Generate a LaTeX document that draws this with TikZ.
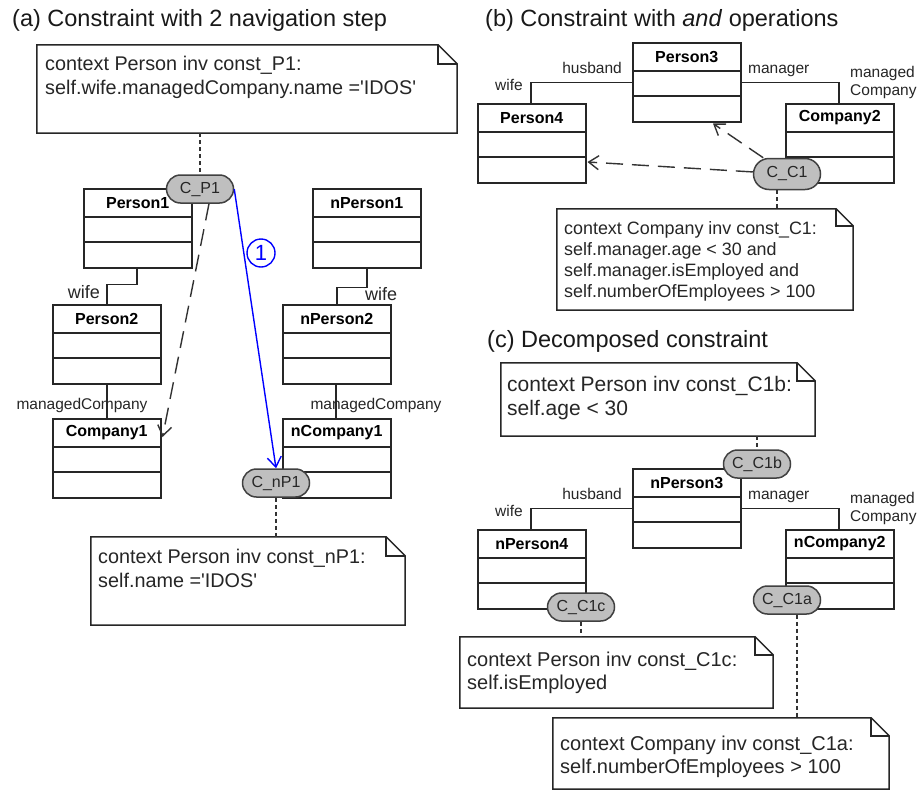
\documentclass[tikz,border=0pt]{standalone}
\usepackage{fontspec}
\setmainfont{Liberation Sans}
\usetikzlibrary{calc,arrows.meta,fit}

\newcommand\umlclass[4]{%
  \node[cls] (#1) at (#2,#3) {};
  \node[clsname] (#1-name) at ($(#1.north)+(0,15)$) {#4};
  \draw[clsline] ($(#1.north west)+(0,29)$) -- ($(#1.north east)+(0,29)$);
  \draw[clsline] ($(#1.north west)+(0,54)$) -- ($(#1.north east)+(0,54)$);
}
\newcommand\umlnote[6]{%
  \node[fit={(#2,#3) (#4,#5)}, inner sep=0pt] (#1) {};
  \draw[noteline] (#1.north west) -- ($(#1.north east)+(-#6,0)$) -- ($(#1.north east)+(0,#6)$)
     -- (#1.south east) -- (#1.south west) -- cycle;
  \draw[noteline] ($(#1.north east)+(-#6,0)$) -- ($(#1.north east)+(-#6,#6)$) -- ($(#1.north east)+(0,#6)$);
}

\begin{document}
\begin{tikzpicture}[x=1pt,y=-1pt,
  cls/.style={draw=black!85, line width=1.5pt, fill=white, inner sep=0pt,
    minimum width=108pt, minimum height=79pt, anchor=north west},
  clsname/.style={font=\fontsize{16}{19}\selectfont\bfseries, inner sep=0pt},
  clsline/.style={draw=black!85, line width=1.5pt},
  assoc/.style={draw=black!85, line width=1.5pt},
  noteline/.style={draw=black!85, line width=1.5pt, line join=miter},
  notetext/.style={align=left, inner sep=0pt, anchor=north west, text=black!85},
  pill/.style={draw=black!75, fill=black!25, line width=1.5pt, rounded corners=14pt,
    minimum width=67pt, minimum height=28pt, inner sep=0pt,
    font=\fontsize{16}{19}\selectfont, text=black!85},
  noteconn/.style={draw=black!80, line width=1.4pt, dash pattern=on 4pt off 3pt},
  deparrow/.style={draw=black!80, line width=1.4pt, dash pattern=on 17pt off 9pt,
    -{Straight Barb[length=10pt,width=14pt]}},
  nav/.style={draw=blue, line width=1.4pt, -{Straight Barb[length=10pt,width=14pt]}},
  role/.style={font=\fontsize{15.5}{18.5}\selectfont, inner sep=0pt, text=black!85},
  rolebig/.style={font=\fontsize{18}{21}\selectfont, inner sep=0pt, text=black!85},
  title/.style={font=\fontsize{23.5}{28}\selectfont, inner sep=0pt, anchor=base west, text=black!90}]

\fill[white] (0,0) rectangle (917,790);
\useasboundingbox (0,0) rectangle (917,790);

% titles
\node[title] (ta) at (12,26) {(a) Constraint with 2 navigation step};
\node[title] (tb) at (485,26) {(b) Constraint with \textit{and} operations};
\node[title] (tc) at (487,347) {(c) Decomposed constraint};

% ---------- (a) ----------
\umlnote{noteP1}{37}{45}{457}{133}{19}
\node[notetext, font=\fontsize{19.8}{24}\selectfont] (noteP1-text) at (45,55.8)
  {context Person inv const\_P1:\\self.wife.managedCompany.name =\textquotesingle IDOS\textquotesingle};

\umlclass{P1}{83}{188}{Person1}
\umlclass{P2}{52}{304}{Person2}
\umlclass{Co1}{52}{418}{Company1}
\umlclass{nP1}{312}{188}{nPerson1}
\umlclass{nP2}{282}{304}{nPerson2}
\umlclass{nCo1}{282}{418}{nCompany1}

\draw[assoc] ($(P1.south west)+(54,0)$) -- ++(0,16) -| ($(P2.north west)+(55,0)$);
\draw[assoc] ($(P2.south west)+(55,0)$) -- ($(Co1.north west)+(55,0)$);
\draw[assoc] ($(nP1.south west)+(55,0)$) -- ++(0,19) -| ($(nP2.north west)+(55,0)$);
\draw[assoc] ($(nP2.south west)+(54,0)$) -- ($(nCo1.north west)+(54,0)$);

\node[rolebig, anchor=base east] (lwa1) at (100,298) {wife};
\node[role, anchor=base] (lma1) at (82,409) {managedCompany};
\node[rolebig, anchor=base west] (lwa2) at (365,300) {wife};
\node[role, anchor=base] (lma2) at (376,409) {managedCompany};

\node[pill] (CP1) at (200,189) {C\_P1};
\node[pill] (CnP1) at (276,483) {C\_nP1};

\draw[noteconn] (CP1.north |- noteP1.south) -- (CP1.north);
\draw[deparrow] ($(CP1.south)+(9,0)$) -- ($(Co1.north east)+(1,19)$);
\draw[nav] (CP1.east) -- (CnP1.north);
\node[draw=blue, circle, line width=1.4pt, minimum size=28pt, inner sep=0pt, text=blue,
  font=\fontsize{22}{26}\selectfont] (one) at (261,253) {1};

\umlnote{notenP1}{91}{537}{405}{625}{19}
\node[notetext, font=\fontsize{19.8}{24}\selectfont] (notenP1-text) at (98,548.8)
  {context Person inv const\_nP1:\\self.name =\textquotesingle IDOS\textquotesingle};
\draw[noteconn] (CnP1.south) -- (CnP1.south |- notenP1.north);

% ---------- (b) ----------
\umlclass{P3}{632}{42}{Person3}
\umlclass{P4}{477}{103}{Person4}
\umlclass{Co2}{785}{103}{Company2}
\draw[assoc] (P3.west) -| ($(P4.north west)+(54,0)$);
\draw[assoc] (P3.east) -| ($(Co2.north west)+(54,0)$);
\node[role, anchor=base east] (lhb) at (622,73) {husband};
\node[role, anchor=base east] (lwb) at (523,90) {wife};
\node[role, anchor=base west] (lmb) at (748,73) {manager};
\node[role, anchor=base west] (lmcb1) at (850,77) {managed};
\node[role, anchor=base west] (lmcb2) at (850,95) {Company};

\node[pill, minimum height=31pt, rounded corners=15.5pt] (CC1) at (787,174) {C\_C1};
\draw[deparrow] (CC1) -- ($(P3.south west)+(81,1)$);
\draw[deparrow] (CC1) -- ($(P4.north east)+(1,59)$);

\umlnote{noteC1}{557}{209}{853}{310}{17}
\node[notetext, font=\fontsize{17.9}{21}\selectfont] (noteC1-text) at (564,221.2)
  {context Company inv const\_C1:\\self.manager.age < 30 and\\self.manager.isEmployed and\\self.numberOfEmployees > 100};
\coordinate (cc1d) at ($(CC1.south)+(-10,0)$);
\draw[noteconn] (cc1d) -- (cc1d |- noteC1.north);

% ---------- (c) ----------
\umlnote{noteC1b}{501}{363}{815}{436}{18}
\node[notetext, font=\fontsize{21}{24}\selectfont] (noteC1b-text) at (507,376)
  {context Person inv const\_C1b:\\self.age < 30};

\umlclass{nP3}{632}{468}{nPerson3}
\umlclass{nP4}{477}{529}{nPerson4}
\umlclass{nCo2}{785}{529}{nCompany2}
\draw[assoc] (nP3.west) -| ($(nP4.north west)+(54,0)$);
\draw[assoc] (nP3.east) -| ($(nCo2.north west)+(54,0)$);
\node[role, anchor=base east] (lhc) at (622,499) {husband};
\node[role, anchor=base east] (lwc) at (523,516) {wife};
\node[role, anchor=base west] (lmc) at (748,499) {manager};
\node[role, anchor=base west] (lmcc1) at (850,503) {managed};
\node[role, anchor=base west] (lmcc2) at (850,521) {Company};

\node[pill] (CC1b) at (757,464) {C\_C1b};
\node[pill] (CC1c) at (581,607) {C\_C1c};
\node[pill] (CC1a) at (787,600) {C\_C1a};
\draw[noteconn] (CC1b.north |- noteC1b.south) -- (CC1b.north);

\umlnote{noteC1c}{460}{637}{773}{708}{18}
\node[notetext, font=\fontsize{20}{23}\selectfont] (noteC1c-text) at (467,651.7)
  {context Person inv const\_C1c:\\self.isEmployed};
\draw[noteconn] (CC1c.south) -- (CC1c.south |- noteC1c.north);

\umlnote{noteC1a}{553}{718}{889}{789}{18}
\node[notetext, font=\fontsize{20}{23}\selectfont] (noteC1a-text) at (560,735.7)
  {context Company inv const\_C1a:\\self.numberOfEmployees > 100};
\coordinate (cc1ad) at ($(CC1a.south)+(10,0)$);
\draw[noteconn] (cc1ad) -- (cc1ad |- noteC1a.north);

\end{tikzpicture}
\end{document}
